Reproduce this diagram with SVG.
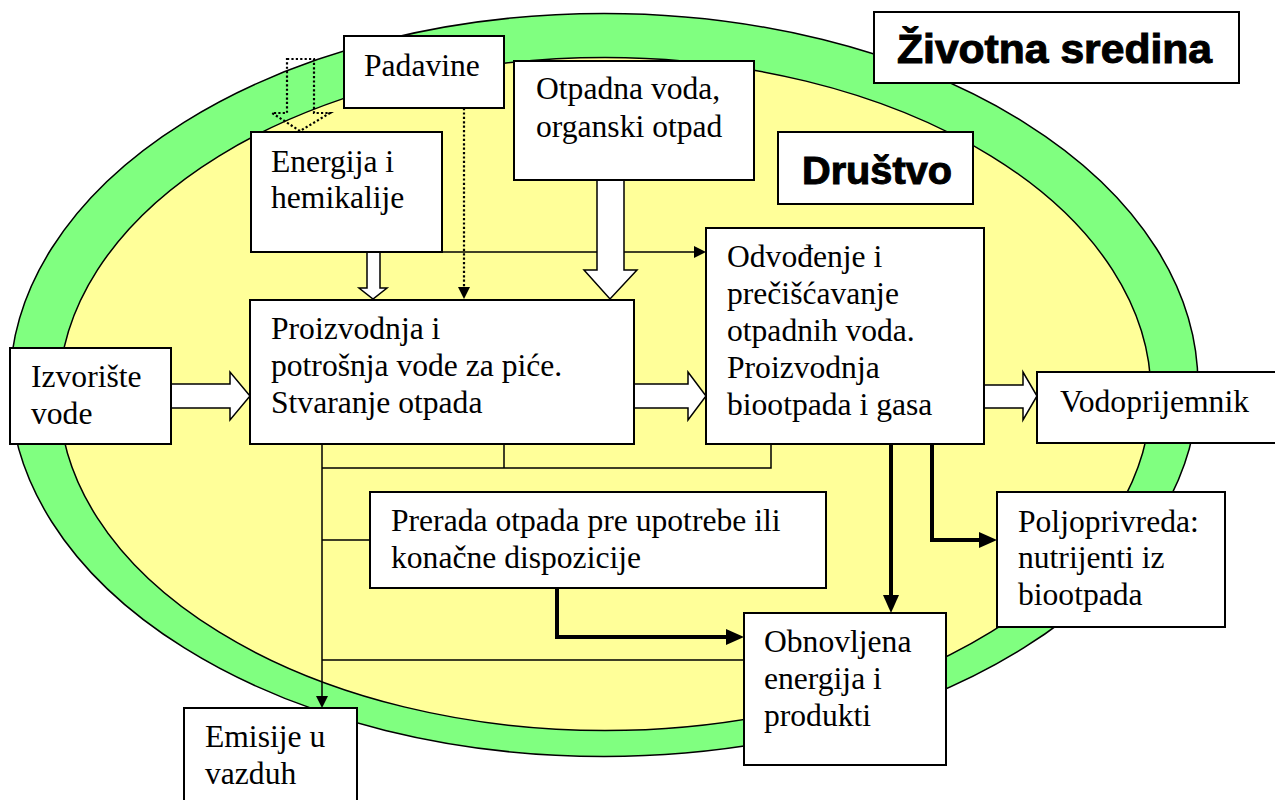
<svg xmlns="http://www.w3.org/2000/svg" width="1275" height="800" viewBox="0 0 1275 800">
<style>
.box{fill:#fff;stroke:#000;stroke-width:2}
.t{font-family:"Liberation Serif","Times New Roman",serif;font-size:31.6px;fill:#000}
.h{font-family:"Liberation Sans",Arial,sans-serif;font-weight:bold;fill:#000;stroke:#000;stroke-width:1}
.thin{fill:none;stroke:#000;stroke-width:1.5}
.thick{fill:none;stroke:#000;stroke-width:4}
.hollow{fill:#fff;stroke:#000;stroke-width:1.5;stroke-linejoin:miter}
.dot{fill:none;stroke:#000;stroke-width:2.2;stroke-dasharray:2.2,2.2}
</style>
<defs>
<marker id="ah" markerUnits="userSpaceOnUse" markerWidth="12" markerHeight="12" refX="6" refY="6" orient="auto"><path d="M0,0 L12,6 L0,12 z" fill="#000"/></marker>
<marker id="ahb" markerUnits="userSpaceOnUse" markerWidth="18" markerHeight="16" refX="8" refY="8" orient="auto"><path d="M0,0 L18,8 L0,16 z" fill="#000"/></marker>
</defs>
<rect width="1275" height="800" fill="#fff"/>
<g id="environment">
<ellipse cx="604" cy="385" rx="594" ry="371.5" fill="#80FF80" stroke="#000" stroke-width="1.5"/>
<ellipse cx="605" cy="394" rx="546" ry="336.5" fill="#FFFF99" stroke="#000" stroke-width="1.5"/>
</g>
<g id="connectors">
<path class="thin" d="M442,252 H700" marker-end="url(#ah)"/>
<path class="dot" d="M464,108 V293" marker-end="url(#ah)"/>
<path class="thin" d="M322,444 V702" marker-end="url(#ah)"/>
<path class="thin" d="M322,468 H771 V444 M504,444 V468 M322,540 H370 M322,660 H744"/>
<path class="thick" d="M557,588 V637 H734" marker-end="url(#ahb)"/>
<path class="thick" d="M891,444 V603" marker-end="url(#ahb)"/>
<path class="thick" d="M932,444 V540 H987" marker-end="url(#ahb)"/>
<path class="hollow" d="M171,384 H230 V372 L250,396 L230,420 V408 H171"/>
<path class="hollow" d="M634,384 H688 V372 L706,396 L688,420 V408 H634"/>
<path class="hollow" d="M985,385 H1023 V372 L1037,396 L1023,420 V408 H985"/>
<path class="hollow" d="M367,252 V288 H359 L373,299 L387,288 H380 V252"/>
<path class="hollow" d="M597,180 V270 H584 L610,299 L637,270 H624 V180"/>
<path class="dot" fill="#fff" d="M287,59 H314 V113 H330 L300,131 L272,113 H287 Z"/>
</g>
<g id="padavine"><rect class="box" x="344" y="36" width="160" height="72"/><text class="t" x="364" y="76">Padavine</text></g>
<g id="energija"><rect class="box" x="251" y="132" width="191" height="120"/><text class="t" x="271" y="172">Energija i</text><text class="t" x="271" y="208">hemikalije</text></g>
<g id="otpadna"><rect class="box" x="514" y="61" width="240" height="119"/><text class="t" x="536" y="99">Otpadna voda,</text><text class="t" x="536" y="137">organski otpad</text></g>
<g id="zivotna"><rect class="box" x="874" y="12" width="365" height="71"/><text class="h" x="897" y="63" font-size="40" textLength="315" lengthAdjust="spacingAndGlyphs">Životna sredina</text></g>
<g id="drustvo"><rect class="box" x="778" y="132" width="195" height="72"/><text class="h" x="802" y="184" font-size="39" textLength="150" lengthAdjust="spacingAndGlyphs">Društvo</text></g>
<g id="izvoriste"><rect class="box" x="10" y="348" width="161" height="96"/><text class="t" x="31" y="387">Izvorište</text><text class="t" x="31" y="424">vode</text></g>
<g id="proizvodnja"><rect class="box" x="250" y="300" width="384" height="144"/><text class="t" x="271" y="339">Proizvodnja i</text><text class="t" x="271" y="376">potrošnja vode za piće.</text><text class="t" x="271" y="413">Stvaranje otpada</text></g>
<g id="odvodjenje"><rect class="box" x="706" y="228" width="278" height="216"/><text class="t" x="727" y="267">Odvođenje i</text><text class="t" x="727" y="304">prečišćavanje</text><text class="t" x="727" y="341">otpadnih voda.</text><text class="t" x="727" y="378">Proizvodnja</text><text class="t" x="727" y="415">biootpada i gasa</text></g>
<g id="vodoprijemnik"><rect class="box" x="1037" y="372" width="250" height="71"/><text class="t" x="1060" y="412">Vodoprijemnik</text></g>
<g id="prerada"><rect class="box" x="370" y="492" width="456" height="96"/><text class="t" x="391" y="531">Prerada otpada pre upotrebe ili</text><text class="t" x="391" y="568">konačne dispozicije</text></g>
<g id="poljoprivreda"><rect class="box" x="997" y="492" width="228" height="135"/><text class="t" x="1018" y="532">Poljoprivreda:</text><text class="t" x="1018" y="568">nutrijenti iz</text><text class="t" x="1018" y="605">biootpada</text></g>
<g id="obnovljena"><rect class="box" x="744" y="613" width="202" height="152"/><text class="t" x="764" y="652">Obnovljena</text><text class="t" x="764" y="689">energija i</text><text class="t" x="764" y="726">produkti</text></g>
<g id="emisije"><rect class="box" x="184" y="708" width="173" height="110"/><text class="t" x="205" y="747">Emisije u</text><text class="t" x="205" y="784">vazduh</text></g>
</svg>
